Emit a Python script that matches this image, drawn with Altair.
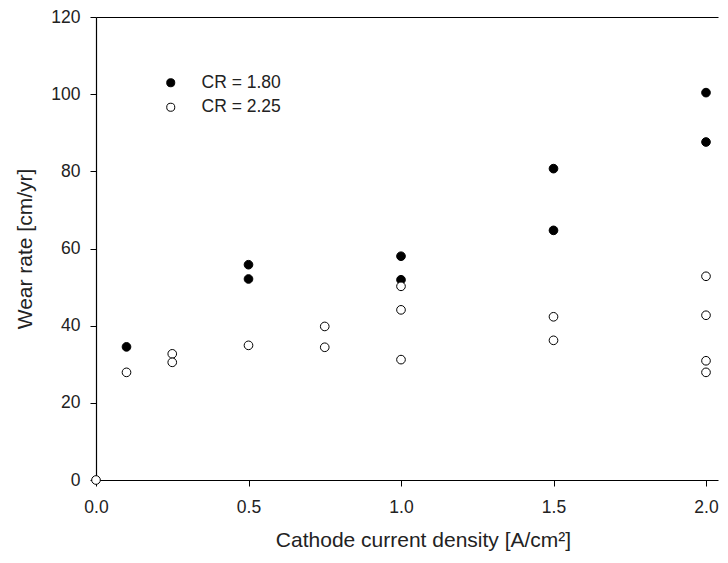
import altair as alt
import pandas as pd

# CR = 1.80 (filled)
x_cr180 = [0.1, 0.5, 0.5, 1.0, 1.0, 1.5, 1.5, 2.0, 2.0]
y_cr180 = [34.5, 55.8, 52.1, 58.0, 51.9, 80.7, 64.7, 100.4, 87.6]
# CR = 2.25 (open)
x_cr225 = [0.0, 0.1, 0.25, 0.25, 0.5, 0.75, 0.75, 1.0, 1.0, 1.0, 1.5, 1.5, 2.0, 2.0, 2.0, 2.0]
y_cr225 = [0.0, 27.9, 32.7, 30.5, 34.9, 39.8, 34.4, 50.2, 44.1, 31.2, 42.3, 36.2, 52.8, 42.7, 30.9, 27.9]

series = ["CR = 1.80", "CR = 2.25"]
x_ticks = [0.0, 0.5, 1.0, 1.5, 2.0]
y_ticks = [0, 20, 40, 60, 80, 100, 120]

df = pd.DataFrame({
    "x": x_cr180 + x_cr225,
    "y": y_cr180 + y_cr225,
    "series": [series[0]] * len(x_cr180) + [series[1]] * len(x_cr225),
})

FONT = "Liberation Sans"
TXT = "#222222"

W = 622
xscale = alt.Scale(domain=[0, W / 305.0], nice=False, zero=False)
yscale = alt.Scale(domain=[0, 120], nice=False)

points = alt.Chart(df).mark_point(
    shape="circle", filled=True, size=75, stroke="black", strokeWidth=1, opacity=1
).encode(
    x=alt.X("x:Q", scale=xscale, axis=alt.Axis(
        orient="bottom", values=x_ticks, format=".1f", labelFlush=False,
        title="Cathode current density [A/cm²]",
        titleX=327, titleY=66, titleBaseline="alphabetic", titleAlign="center",
        labelBaseline="alphabetic", labelPadding=26,
    )),
    y=alt.Y("y:Q", scale=yscale, axis=alt.Axis(
        values=y_ticks, format="d", title="Wear rate [cm/yr]",
        titleX=-65, titleY=231.5, titleAngle=-90, titleAlign="center",
        titleBaseline="alphabetic", labelPadding=10, labelFlush=False,
    )),
    fill=alt.Fill("series:N", scale=alt.Scale(domain=series, range=["black", "white"]),
                  legend=alt.Legend(
                      title=None, orient="none", legendX=66, legendY=57,
                      symbolSize=65, symbolStrokeColor="black", symbolStrokeWidth=1,
                      symbolType="circle", labelOffset=22, rowPadding=5.5,
                      labelFontSize=17.5, labelFont=FONT, labelColor=TXT, padding=0,
                  )),
)

top = alt.Chart(df).mark_point(opacity=0).encode(
    x=alt.X("x:Q", scale=xscale, axis=alt.Axis(
        orient="top", labels=False, ticks=False, title=None, domainColor="black")),
    y=alt.Y("y:Q", scale=yscale),
)

chart = alt.layer(points, top).resolve_axis(x="independent").properties(
    width=W, height=463,
    padding={"left": 88, "top": 9, "right": 2, "bottom": 74},
    autosize=alt.AutoSizeParams(type="none"),
).configure_view(stroke=None).configure_axis(
    grid=False, domainColor="black", domainWidth=1.2, tickColor="black",
    tickSize=6, tickWidth=1, labelFont=FONT, labelFontSize=17.5, labelColor=TXT,
    titleFont=FONT, titleFontSize=21, titleColor=TXT, titleFontWeight="normal",
)

chart.save("out.html", embed_options={"renderer": "svg", "actions": False})
